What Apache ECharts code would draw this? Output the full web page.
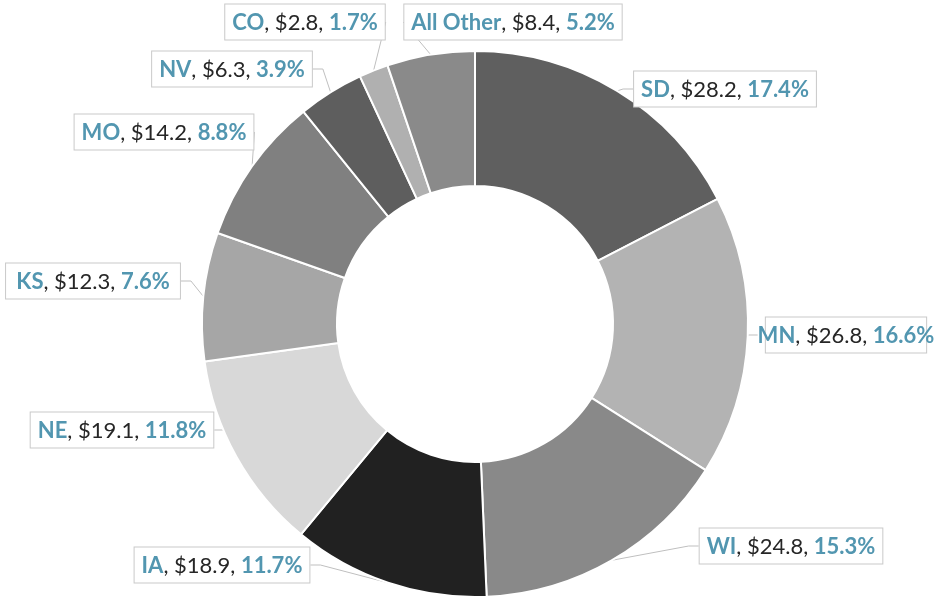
<!DOCTYPE html>
<html>
<head>
<meta charset="utf-8">
<script src="https://cdn.jsdelivr.net/npm/echarts@6/dist/echarts.min.js"></script>
<style>
  html, body { margin: 0; padding: 0; background: #fff; }
  #chart { width: 943px; height: 598px; }
</style>
</head>
<body>
<div id="chart"></div>
<script>
// data, clockwise from 12 o'clock
const states = ['SD', 'MN', 'WI', 'IA', 'NE', 'KS', 'MO', 'NV', 'CO', 'All Other']
const sales = [28.2, 26.8, 24.8, 18.9, 19.1, 12.3, 14.2, 6.3, 2.8, 8.4]
const shares = ['17.4%', '16.6%', '15.3%', '11.7%', '11.8%', '7.6%', '8.8%', '3.9%', '1.7%', '5.2%']

// slice shades and label box centres (layout only)
const shades = ['#5f5f5f', '#b3b3b3', '#898989', '#212121', '#d8d8d8', '#a6a6a6', '#808080', '#5e5e5e', '#b0b0b0', '#8a8a8a']
const labelSpots = [[725, 89], [846, 335], [791, 546], [222, 565], [122, 430], [93, 281], [164, 132], [232, 69], [305, 22], [513, 22]]

const chart = echarts.init(document.getElementById('chart'))

const option = {
  animation: false,
  series: [
    {
      type: 'pie',
      center: [475, 324],
      radius: [138, 273],
      startAngle: 90,
      clockwise: true,
      itemStyle: {
        borderColor: '#fff',
        borderWidth: 2
      },
      label: {
        show: true,
        position: 'outside',
        overflow: 'none',
        backgroundColor: '#fff',
        borderColor: '#c9c9c9',
        borderWidth: 1,
        padding: [7, 7, 6, 7],
        fontFamily: 'Lato',
        fontSize: 22,
        color: '#262626',
        formatter: function (p) {
          return '{n|' + p.name + '}, $' + sales[p.dataIndex].toFixed(1) + ', {p|' + shares[p.dataIndex] + '}'
        },
        rich: {
          n: { fontFamily: 'Lato', fontSize: 22, fontWeight: 'bold', color: '#5296b0' },
          p: { fontFamily: 'Lato', fontSize: 22, fontWeight: 'bold', color: '#5296b0' }
        }
      },
      labelLine: {
        show: true,
        length: 10,
        length2: 10,
        lineStyle: { color: '#bfbfbf', width: 1 }
      },
      labelLayout: function (params) {
        const s = labelSpots[params.dataIndex]
        return { x: s[0], y: s[1], align: 'center', verticalAlign: 'middle' }
      },
      data: states.map(function (s, i) {
        return { name: s, value: sales[i], itemStyle: { color: shades[i] } }
      })
    }
  ]
}

chart.setOption(option)
</script>
</body>
</html>
